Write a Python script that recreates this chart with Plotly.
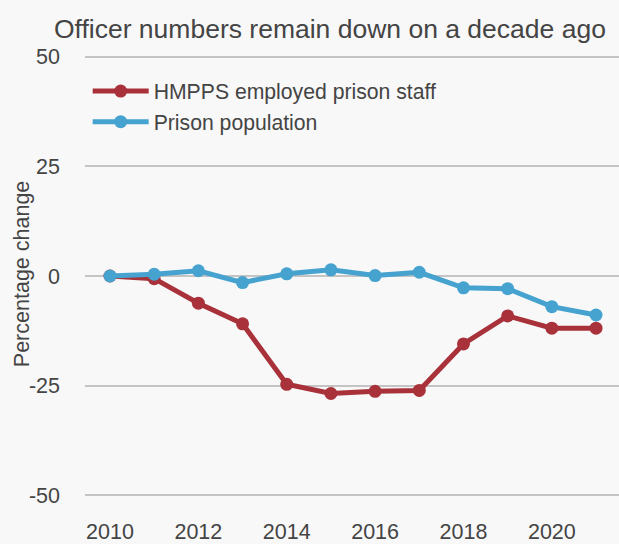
import plotly.graph_objects as go

years = list(range(2010, 2022))
staff_change = [0, -0.6, -6.2, -10.9, -24.7, -26.8, -26.3, -26.1, -15.5, -9.1, -11.9, -11.9]
population_change = [0, 0.4, 1.2, -1.5, 0.5, 1.4, 0.1, 0.85, -2.7, -2.9, -7.0, -8.9]

y_ticks = [50, 25, 0, -25, -50]
x_ticks = [2010, 2012, 2014, 2016, 2018, 2020]

RED = "#a8313a"
BLUE = "#46a2cf"
TEXT = "#444444"
FONT = "Liberation Sans, Arial, sans-serif"

fig = go.Figure()
fig.add_trace(go.Scatter(
    x=years, y=staff_change, name="HMPPS employed prison staff",
    mode="lines+markers",
    line=dict(color=RED, width=5),
    marker=dict(color=RED, size=13),
))
fig.add_trace(go.Scatter(
    x=years, y=population_change, name="Prison population",
    mode="lines+markers",
    line=dict(color=BLUE, width=5),
    marker=dict(color=BLUE, size=13),
))

# Vertical axis title placed as a rotated annotation left of the tick labels
fig.add_annotation(
    text="Percentage change", textangle=-90,
    xref="paper", yref="paper", x=-0.119, y=0.505,
    xanchor="center", yanchor="middle", showarrow=False,
    font=dict(size=21.5, color=TEXT),
)

fig.update_layout(
    width=619, height=544,
    margin=dict(l=85, r=0, t=48, b=36),
    paper_bgcolor="#f8f8f8",
    plot_bgcolor="#f8f8f8",
    font=dict(family=FONT, color=TEXT, size=21),
    title=dict(
        text="Officer numbers remain down on a decade ago",
        x=0.533, xanchor="center", y=0.948, yanchor="middle",
        font=dict(size=26.5, color=TEXT),
    ),
    showlegend=True,
    legend=dict(
        x=0.005, y=0.95, xanchor="left", yanchor="top",
        bgcolor="rgba(0,0,0,0)",
        font=dict(size=21.2, color=TEXT),
        itemwidth=56,
        tracegroupgap=0,
    ),
    xaxis=dict(
        range=[2009.434, 2021.52],
        tickvals=x_ticks,
        ticktext=[str(t) for t in x_ticks],
        showgrid=False, zeroline=False, showline=False,
        ticks="", ticklabelstandoff=12,
        tickfont=dict(size=21.5, color=TEXT),
    ),
    yaxis=dict(
        range=[-52, 52],
        tickvals=y_ticks,
        ticktext=[str(t) for t in y_ticks],
        showgrid=True, gridcolor="#c4c4c4", gridwidth=1.5,
        zeroline=False, showline=False, ticks="",
        ticklabelstandoff=24,
        tickfont=dict(size=21.5, color=TEXT),
    ),
)

fig.write_html("out.html")
